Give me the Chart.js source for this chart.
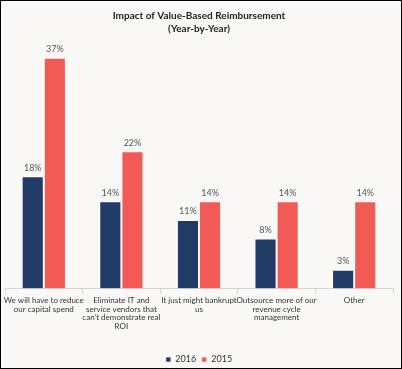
<!DOCTYPE html>
<html>
<head>
<meta charset="utf-8">
<script src="https://cdn.jsdelivr.net/npm/chart.js@4.4.0/dist/chart.umd.min.js"></script>
<style>
    html, body { margin: 0; padding: 0; background: #fff; }
    #frame {
        width: 402px; height: 369px; box-sizing: border-box;
        border: 1px solid #000; background: #f9f8f6;
    }
    canvas { display: block; }
</style>
</head>
<body>
<div id="frame"><canvas id="impactChart" width="400" height="367"></canvas></div>
<script>
// Datos del gráfico
const categories = [
    ['We will have to reduce', 'our capital spend'],
    ['Eliminate IT and', 'service vendors that', 'can’t demonstrate real', 'ROI'],
    ['It just might bankrupt', 'us'],
    ['Outsource more of our', 'revenue cycle', 'management'],
    ['Other']
];
const seriesLabels = ['2016', '2015'];
const values2016 = [18, 14, 11, 8, 3];
const values2015 = [37, 22, 14, 14, 14];

const NAVY = '#213a66';
const RED = '#f25a55';
const FONT = 'Lato, "Open Sans", sans-serif';

/**
 * Dibuja las etiquetas de porcentaje sobre cada barra
 */
const barLabels = {
    id: 'barLabels',
    afterDatasetsDraw(chart) {
        const ctx = chart.ctx;
        ctx.save();
        ctx.font = '9px ' + FONT;
        ctx.fillStyle = '#555';
        ctx.textAlign = 'center';
        ctx.textBaseline = 'bottom';
        chart.data.datasets.forEach((ds, i) => {
            chart.getDatasetMeta(i).data.forEach((bar, j) => {
                ctx.fillText(ds.data[j] + '%', bar.x, bar.y - 4);
            });
        });
        ctx.restore();
    }
};

new Chart(document.getElementById('impactChart'), {
    type: 'bar',
    data: {
        labels: categories,
        datasets: [
            {
                label: seriesLabels[0],
                data: values2016,
                backgroundColor: NAVY,
                borderColor: 'rgba(255,255,255,0.6)',
                borderWidth: 1,
                categoryPercentage: 0.57,
                barPercentage: 1.0
            },
            {
                label: seriesLabels[1],
                data: values2015,
                backgroundColor: RED,
                borderColor: 'rgba(255,255,255,0.6)',
                borderWidth: 1,
                categoryPercentage: 0.57,
                barPercentage: 1.0
            }
        ]
    },
    options: {
        responsive: false,
        animation: false,
        layout: {
            padding: { top: 9, left: 4, right: 8, bottom: -6 }
        },
        plugins: {
            title: {
                display: true,
                text: ['Impact of Value-Based Reimbursement', '(Year-by-Year)'],
                color: '#222',
                font: { family: FONT, size: 10, weight: 'bold', lineHeight: 1.25 },
                padding: { top: 0, bottom: 4 }
            },
            legend: {
                position: 'bottom',
                labels: {
                    boxWidth: 5,
                    boxHeight: 5,
                    padding: 5.5,
                    color: '#333',
                    font: { family: FONT, size: 9 }
                }
            },
            tooltip: { enabled: false }
        },
        scales: {
            x: {
                afterFit(scale) {
                    scale.height = 61;
                },
                grid: {
                    display: true,
                    drawOnChartArea: false,
                    offset: true,
                    tickLength: 5,
                    color: '#d4d4d4'
                },
                border: { display: true, color: '#d4d4d4' },
                ticks: {
                    color: '#333',
                    padding: 2,
                    maxRotation: 0,
                    autoSkip: false,
                    font: { family: FONT, size: 8, lineHeight: 1.12 }
                }
            },
            y: {
                display: false,
                min: 0,
                max: 40
            }
        }
    },
    plugins: [barLabels]
});
</script>
</body>
</html>
